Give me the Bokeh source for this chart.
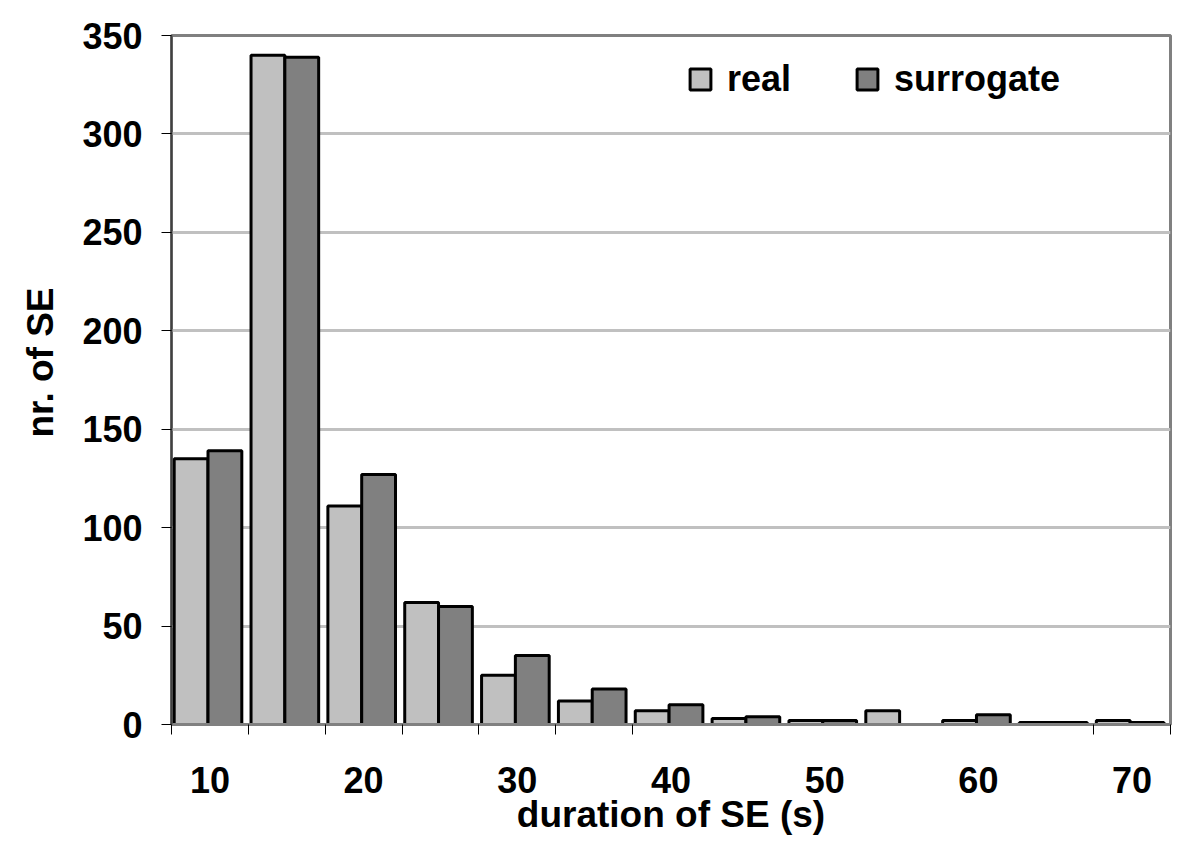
from bokeh.plotting import figure
from bokeh.models import ColumnDataSource, FixedTicker, Range1d, Legend, LegendItem, Title
from bokeh.embed import file_html
from bokeh.resources import INLINE

# ---- data ----
durations = [10, 15, 20, 25, 30, 35, 40, 45, 50, 55, 60, 65, 70]
real = [135, 340, 111, 62, 25, 12, 7, 3, 2, 7, 2, 1, 2]
surrogate = [139, 339, 127, 60, 35, 18, 10, 4, 2, 0, 5, 1, 1]
x_tick_values = [10, 20, 30, 40, 50, 60, 70]
y_tick_values = [0, 50, 100, 150, 200, 250, 300, 350]

step = 5.0
bw = 0.44 * step
shift = -0.025 * step

real_src = ColumnDataSource(dict(
    x=[d + shift - bw / 2 for d, v in zip(durations, real) if v > 0],
    top=[v for v in real if v > 0]))
sur_src = ColumnDataSource(dict(
    x=[d + shift + bw / 2 for d, v in zip(durations, surrogate) if v > 0],
    top=[v for v in surrogate if v > 0]))

boundaries = [d - step / 2 for d in durations] + [durations[-1] + step / 2]
shown = [0, 1, 2, 3, 4, 5, 6, 12, 13]
minor_positions = [boundaries[i] for i in shown]

FONT = "Liberation Sans"

p = figure(width=1184, height=844,
           x_range=Range1d(boundaries[0], boundaries[-1]),
           y_range=Range1d(0, 350),
           output_backend="svg", toolbar_location=None,
           min_border_left=171, min_border_right=14,
           min_border_top=35, min_border_bottom=120,
           x_axis_label="duration of SE (s)")
p.background_fill_color = "white"
p.border_fill_color = "white"
p.outline_line_color = "#808080"
p.outline_line_width = 3

r1 = p.vbar(x="x", top="top", width=bw, bottom=0, source=real_src,
            fill_color="#c0c0c0", line_color="black", line_width=3)
r2 = p.vbar(x="x", top="top", width=bw, bottom=0, source=sur_src,
            fill_color="#808080", line_color="black", line_width=3)

# axes
xt = FixedTicker(ticks=x_tick_values, minor_ticks=minor_positions)
p.xaxis.ticker = xt
p.xaxis.major_tick_line_color = None
p.xaxis.major_tick_out = 10
p.xaxis.major_tick_in = 0
p.xaxis.minor_tick_out = 10
p.xaxis.minor_tick_in = 0
p.xaxis.minor_tick_line_color = "black"
p.xaxis.minor_tick_line_width = 1
p.xaxis.axis_line_color = "#808080"
p.xaxis.axis_line_width = 3
p.xaxis.major_label_standoff = 32
p.xaxis.axis_label_standoff = -2

yt = FixedTicker(ticks=y_tick_values)
p.yaxis.ticker = yt
p.yaxis.major_tick_out = 10
p.yaxis.major_tick_in = 0
p.yaxis.major_tick_line_color = "black"
p.yaxis.major_tick_line_width = 1
p.yaxis.minor_tick_line_color = None
p.yaxis.axis_line_color = "#404040"
p.yaxis.axis_line_width = 2
p.yaxis.major_label_standoff = 19

for ax in (p.xaxis, p.yaxis):
    ax.major_label_text_font = FONT
    ax.major_label_text_font_size = "36px"
    ax.major_label_text_font_style = "bold"
    ax.major_label_text_color = "black"
    ax.axis_label_text_font = FONT
    ax.axis_label_text_font_size = "37px"
    ax.axis_label_text_font_style = "bold"
    ax.axis_label_text_color = "black"

# y-axis title, a little above the frame centre as in the original
ytitle = Title(text="nr. of SE", align="right", vertical_align="top", offset=252,
               standoff=34,
               text_font=FONT, text_font_size="37px", text_font_style="bold",
               text_color="black")
p.add_layout(ytitle, "left")

p.xgrid.visible = False
p.ygrid.ticker = yt
p.ygrid.grid_line_color = "#c0c0c0"
p.ygrid.grid_line_width = 3

legend = Legend(items=[LegendItem(label="real", renderers=[r1]),
                       LegendItem(label="surrogate", renderers=[r2])],
                orientation="horizontal", location=(516, 624),
                padding=0, margin=0, spacing=63,
                glyph_width=26, glyph_height=26, label_standoff=14,
                border_line_color=None, background_fill_alpha=0,
                label_text_font=FONT, label_text_font_size="36px",
                label_text_font_style="bold", label_text_color="black")
p.add_layout(legend)

open("out.html", "w").write(file_html(p, INLINE))
